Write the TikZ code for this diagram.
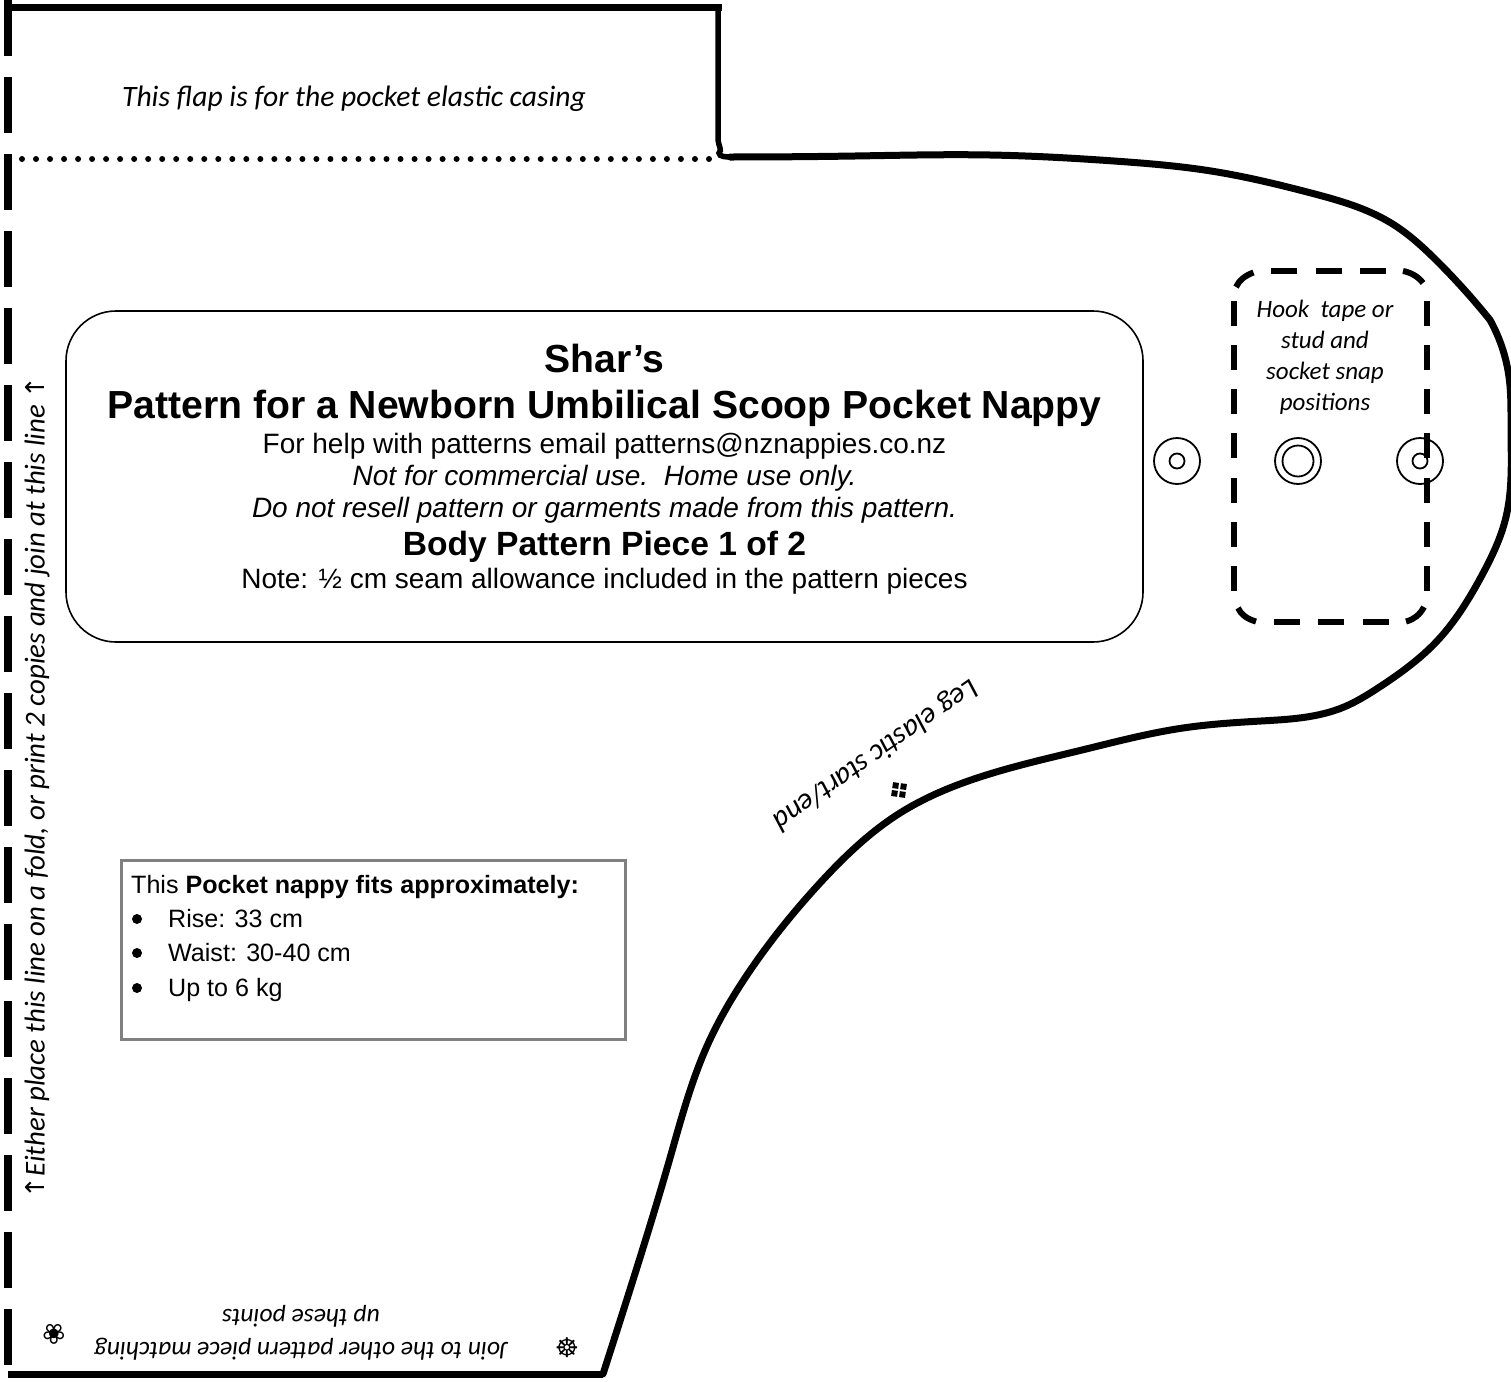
\documentclass[tikz,border=0pt]{standalone}
\usepackage{fontspec}
\usetikzlibrary{hobby}
\setmainfont{Liberation Sans}
\newfontfamily\hand{Carlito}[ItalicFont=* Italic]
\newfontfamily\dejavu{DejaVu Sans}
\newcommand{\fsz}[1]{\fontsize{#1}{#1}\selectfont}
\begin{document}
\begin{tikzpicture}[x=1pt,y=-1pt,
  cutline/.style={line width=7pt,line join=miter},
  foldline/.style={line width=8pt},
  dashrect/.style={line width=6pt},
  snap/.style={line width=1.8pt},
  arial/.style={inner sep=0pt,anchor=base},
  handtext/.style={inner sep=0pt,font=\hand\itshape\fsz{29.6}},
]
\useasboundingbox (0,0) rectangle (1511,1381);
% fold line on the left
\foreach \i in {0,...,17}{
  \draw[foldline] (8,{\i*77}) -- (8,{\i*77+56});
}
% outer cut line
\draw[cutline] (8,8) -- (722,8);
\draw[cutline,line width=5.5pt] (718,8) -- (718,140) .. controls (719,147) and (722,150) .. (719,153) .. controls (719,157) and (726,157) .. (735,157);
\draw[cutline,line cap=round,use Hobby shortcut]
  (730,157) .. (855,156) .. (990,155) .. (1114,161) .. (1211,171) .. (1311,193) .. (1391,223) .. (1438,262) .. (1490,320);
\draw[cutline,line cap=round,use Hobby shortcut]
  (1490,320) .. (1509,377) .. (1511,430) .. (1506,517) .. (1481,577) .. (1438,640) .. (1378,688) .. (1344,707) .. (1261,721) .. (1183,728) .. (1082,750) .. (980,777) .. (900,813) .. (820,883) .. (747,975) .. (707,1046) .. (670,1158) .. (627,1299) .. (603,1374);
\draw[cutline] (8,1374) -- (603,1374);
% dotted fold
\foreach \i in {0,...,49}{
  \fill ({22+\i*14.02},159) circle (3pt);
}
% title panel
\draw[line width=1.6pt,rounded corners=50pt] (66,311) rectangle (1143,642);
\node[arial,font=\bfseries\fsz{39.15}] (t1) at (604.5,372) {Shar’s};
\node[arial,font=\bfseries\fsz{39.15}] (t2) at (604.5,418) {Pattern for a Newborn Umbilical Scoop Pocket Nappy};
\node[arial,font=\fsz{28}] (t3) at (604.5,453) {For help with patterns email patterns@nznappies.co.nz};
\node[arial,font=\itshape\fsz{28}] (t4) at (604.5,485) {Not for commercial use.\ \ Home use only.};
\node[arial,font=\itshape\fsz{28}] (t5) at (604.5,517) {Do not resell pattern or garments made from this pattern.};
\node[arial,font=\bfseries\fsz{33.6}] (t6) at (604.5,555) {Body Pattern Piece 1 of 2};
\node[arial,font=\fsz{28}] (t7) at (604.5,588) {Note: ½ cm seam allowance included in the pattern pieces};
% snap panel
\foreach \y in {301,345,389,433,478,522,566}{
  \draw[dashrect] (1234,\y) -- (1234,{\y+25});
  \draw[dashrect] (1427,\y) -- (1427,{\y+25});
}
\foreach \x in {1271,1316,1360}{ \draw[dashrect] (\x,271) -- ({\x+25.5},271); }
\foreach \x in {1274,1318,1363}{ \draw[dashrect] (\x,622) -- ({\x+25.5},622); }
\draw[dashrect] (1253.5,272.5) .. controls (1245,275.5) and (1239,280.5) .. (1236,287);
\draw[dashrect] (1403,271) .. controls (1411,272.5) and (1418,276.5) .. (1423,283);
\draw[dashrect] (1238,608) .. controls (1241,614.5) and (1247,619) .. (1256,621.5);
\draw[dashrect] (1406,621.5) .. controls (1414,619.5) and (1420,614.5) .. (1424,607);
\node[handtext,font=\hand\itshape\fsz{25}] (hook) at (1325,358.5) {%
  \begin{tabular}{@{}c@{}}Hook\ \ tape or\\[6pt] stud and\\[6pt] socket snap\\[6pt] positions\end{tabular}};
% snap circles
\draw[snap] (1177,461) circle (23pt);
\draw[snap] (1177,461) circle (7.5pt);
\draw[snap] (1298,461) circle (23pt);
\draw[snap] (1298,461) circle (15.5pt);
\draw[snap] (1420,461) circle (23pt);
\draw[snap] (1420,461) circle (7.5pt);
% flap label
\node[handtext] (flap) at (354,99) {This flap is for the pocket elastic casing};
% fold label
\node[handtext,font=\hand\itshape\fsz{28.8},rotate=90] (fold) at (37,787.5) {{\dejavu\fsz{26}↑}Either place this line on a fold, or print 2 copies and join at this line {\dejavu\fsz{26}↑}};
% leg label
\node[handtext,rotate=215] (leg) at (875,754) {Leg elastic start/end};
\begin{scope}[shift={(899,790)},rotate=-8]
  \fill (-7,-7) rectangle (-1,-1);
  \fill (1,-7) rectangle (7,-1);
  \fill (-7,1) rectangle (-1,7);
  \fill (1,1) rectangle (7,7);
\end{scope}
% join label
\node[handtext,font=\hand\itshape\fsz{25.6},rotate=180] (join) at (301,1331) {%
  \begin{tabular}{@{}c@{}}Join to the other pattern piece matching\\[8pt] up these points\end{tabular}};
\node[inner sep=0pt,rotate=180,font=\dejavu\fsz{28}] (flower) at (54,1334) {❀};
\node[inner sep=0pt,font=\dejavu\fsz{27}] (wheel) at (567,1348) {☸};
% fit panel
\draw[color=black!50,line width=3pt] (121,860) rectangle (625,1039);
\node[arial,anchor=base west,font=\fsz{25.1}] (f0) at (131,893) {This \textbf{Pocket nappy fits approximately:}};
\node[arial,anchor=base west,font=\fsz{25.1}] (f1) at (168,927) {Rise: 33 cm};
\node[arial,anchor=base west,font=\fsz{25.1}] (f2) at (168,961) {Waist: 30-40 cm};
\node[arial,anchor=base west,font=\fsz{25.1}] (f3) at (168,996) {Up to 6 kg};
\fill (137,919) circle (5pt) (137,953) circle (5pt) (137,988) circle (5pt);
\end{tikzpicture}
\end{document}
